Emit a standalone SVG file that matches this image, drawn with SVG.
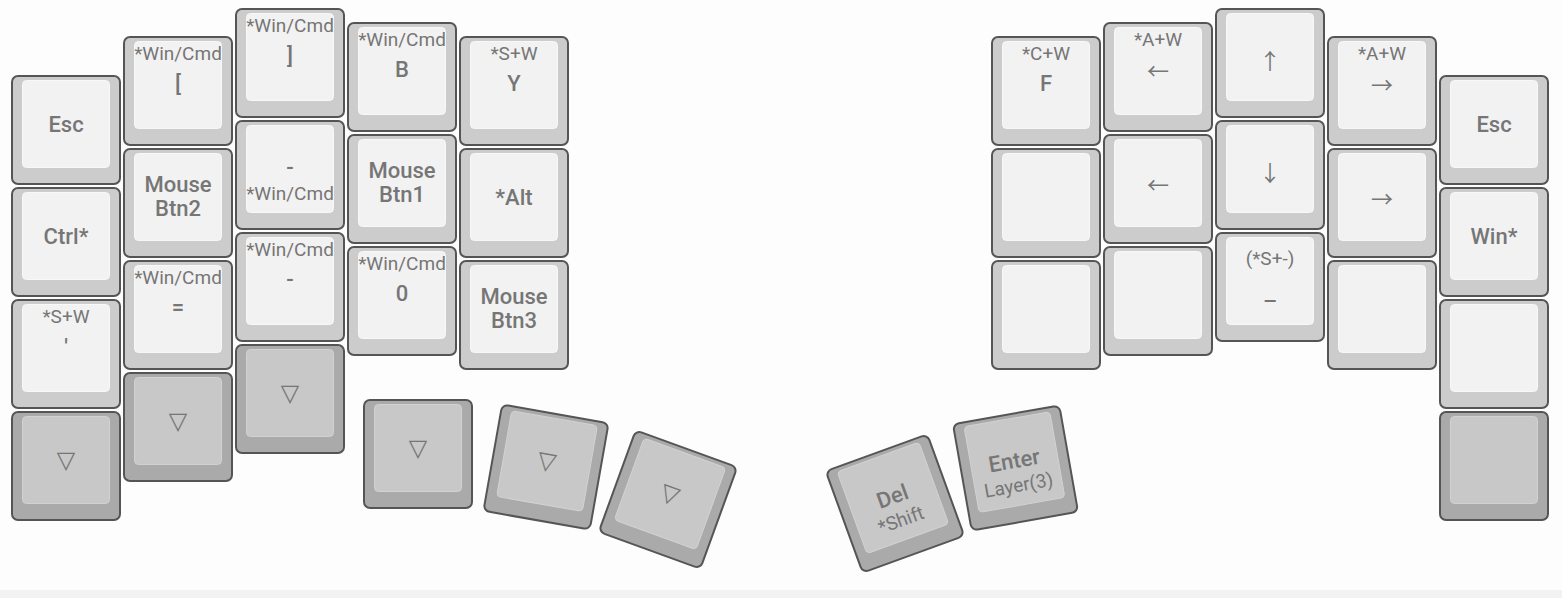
<svg xmlns="http://www.w3.org/2000/svg" xmlns:xlink="http://www.w3.org/1999/xlink" width="1562" height="598" viewBox="0 0 1562 598">
<style>
.ko{fill:#cccccc;stroke:#555555;stroke-width:2}
.ki{fill:#f2f2f2;stroke:#f8f8f8;stroke-width:1}
.kod{fill:#aaaaaa;stroke:#555555;stroke-width:2}
.kid{fill:#c8c8c8;stroke:#d2d2d2;stroke-width:1}
text{font-family:Roboto,"DejaVu Sans",sans-serif;fill:#767676;text-anchor:middle}
.m{font-size:22px;font-weight:500}
.s{font-size:19px}
.a{font-size:22px;font-family:"Noto Sans CJK SC","DejaVu Sans",sans-serif}
.t{font-size:24px;font-family:"DejaVu Sans",sans-serif}
</style>
<defs>
<g id="cap"><rect class="ko" x="1" y="1" width="108" height="108" rx="6"/><rect class="ki" x="11.5" y="5.5" width="87" height="87" rx="4"/></g>
<g id="capd"><rect class="kod" x="1" y="1" width="108" height="108" rx="6"/><rect class="kid" x="11.5" y="5.5" width="87" height="87" rx="4"/></g>
</defs>
<rect x="0" y="0" width="1562" height="598" fill="#fdfdfd"/>
<rect x="0" y="590" width="1562" height="8" fill="#f2f2f2"/>

<!-- left column 1 -->
<g id="l-c1-r0" transform="translate(11,75)"><use href="#cap"/><text class="m" x="55" y="56.5">Esc</text></g>
<g id="l-c1-r1" transform="translate(11,187)"><use href="#cap"/><text class="m" x="55" y="56.5">Ctrl*</text></g>
<g id="l-c1-r2" transform="translate(11,299)"><use href="#cap"/><text class="s" x="55" y="24">*S+W</text><text class="m" x="55" y="54.5">'</text></g>
<g id="l-c1-r3" transform="translate(11,411)"><use href="#capd"/><text class="t" x="55" y="57">▽</text></g>

<!-- left column 2 -->
<g id="l-c2-r0" transform="translate(123,36)"><use href="#cap"/><text class="s" x="55" y="24">*Win/Cmd</text><text class="m" x="55" y="54.5">[</text></g>
<g id="l-c2-r1" transform="translate(123,148)"><use href="#cap"/><text class="m" x="55" y="44">Mouse</text><text class="m" x="55" y="68">Btn2</text></g>
<g id="l-c2-r2" transform="translate(123,260)"><use href="#cap"/><text class="s" x="55" y="24">*Win/Cmd</text><text class="m" x="55" y="54.5">=</text></g>
<g id="l-c2-r3" transform="translate(123,372)"><use href="#capd"/><text class="t" x="55" y="57">▽</text></g>

<!-- left column 3 -->
<g id="l-c3-r0" transform="translate(235,8)"><use href="#cap"/><text class="s" x="55" y="24">*Win/Cmd</text><text class="m" x="55" y="54.5">]</text></g>
<g id="l-c3-r1" transform="translate(235,120)"><use href="#cap"/><text class="m" x="55" y="55">-</text><text class="s" x="55" y="80">*Win/Cmd</text></g>
<g id="l-c3-r2" transform="translate(235,232)"><use href="#cap"/><text class="s" x="55" y="24">*Win/Cmd</text><text class="m" x="55" y="54.5">-</text></g>
<g id="l-c3-r3" transform="translate(235,344)"><use href="#capd"/><text class="t" x="55" y="57">▽</text></g>

<!-- left column 4 -->
<g id="l-c4-r0" transform="translate(347,22)"><use href="#cap"/><text class="s" x="55" y="24">*Win/Cmd</text><text class="m" x="55" y="54.5">B</text></g>
<g id="l-c4-r1" transform="translate(347,134)"><use href="#cap"/><text class="m" x="55" y="44">Mouse</text><text class="m" x="55" y="68">Btn1</text></g>
<g id="l-c4-r2" transform="translate(347,246)"><use href="#cap"/><text class="s" x="55" y="24">*Win/Cmd</text><text class="m" x="55" y="54.5">0</text></g>

<!-- left column 5 -->
<g id="l-c5-r0" transform="translate(459,36)"><use href="#cap"/><text class="s" x="55" y="24">*S+W</text><text class="m" x="55" y="54.5">Y</text></g>
<g id="l-c5-r1" transform="translate(459,148)"><use href="#cap"/><text class="m" x="55" y="56.5">*Alt</text></g>
<g id="l-c5-r2" transform="translate(459,260)"><use href="#cap"/><text class="m" x="55" y="44">Mouse</text><text class="m" x="55" y="68">Btn3</text></g>

<!-- left thumbs -->
<g id="l-t1" transform="translate(363,399)"><use href="#capd"/><text class="t" x="55" y="57">▽</text></g>
<g id="l-t2" transform="translate(546,467) rotate(10) translate(-55,-55)"><use href="#capd"/><text class="t" x="55" y="57">▽</text></g>
<g id="l-t3" transform="translate(668,499.5) rotate(20) translate(-55,-55)"><use href="#capd"/><text class="t" x="55" y="57">▽</text></g>

<!-- right thumbs -->
<g id="r-t1" transform="translate(895,503.5) rotate(-20) translate(-55,-55)"><use href="#capd"/><text class="m" x="55" y="55">Del</text><text class="s" x="55" y="79">*Shift</text></g>
<g id="r-t2" transform="translate(1015.5,468) rotate(-10) translate(-55,-55)"><use href="#capd"/><text class="m" x="55" y="55">Enter</text><text class="s" x="55" y="79">Layer(3)</text></g>

<!-- right column 1 -->
<g id="r-c1-r0" transform="translate(991,36)"><use href="#cap"/><text class="s" x="55" y="24">*C+W</text><text class="m" x="55" y="54.5">F</text></g>
<g id="r-c1-r1" transform="translate(991,148)"><use href="#cap"/></g>
<g id="r-c1-r2" transform="translate(991,260)"><use href="#cap"/></g>

<!-- right column 2 -->
<g id="r-c2-r0" transform="translate(1103,22)"><use href="#cap"/><text class="s" x="55" y="24">*A+W</text><text class="a" x="55" y="57">←</text></g>
<g id="r-c2-r1" transform="translate(1103,134)"><use href="#cap"/><text class="a" x="55" y="59.4">←</text></g>
<g id="r-c2-r2" transform="translate(1103,246)"><use href="#cap"/></g>

<!-- right column 3 -->
<g id="r-c3-r0" transform="translate(1215,8)"><use href="#cap"/><text class="a" x="55" y="60.7">↑</text></g>
<g id="r-c3-r1" transform="translate(1215,120)"><use href="#cap"/><text class="a" x="55" y="60.7">↓</text></g>
<g id="r-c3-r2" transform="translate(1215,232)"><use href="#cap"/><text class="s" x="55" y="33">(*S+-)</text><text class="m" x="55" y="77">–</text></g>

<!-- right column 4 -->
<g id="r-c4-r0" transform="translate(1327,36)"><use href="#cap"/><text class="s" x="55" y="24">*A+W</text><text class="a" x="55" y="57">→</text></g>
<g id="r-c4-r1" transform="translate(1327,148)"><use href="#cap"/><text class="a" x="55" y="59.4">→</text></g>
<g id="r-c4-r2" transform="translate(1327,260)"><use href="#cap"/></g>

<!-- right column 5 -->
<g id="r-c5-r0" transform="translate(1439,75)"><use href="#cap"/><text class="m" x="55" y="56.5">Esc</text></g>
<g id="r-c5-r1" transform="translate(1439,187)"><use href="#cap"/><text class="m" x="55" y="56.5">Win*</text></g>
<g id="r-c5-r2" transform="translate(1439,299)"><use href="#cap"/></g>
<g id="r-c5-r3" transform="translate(1439,411)"><use href="#capd"/></g>
</svg>
